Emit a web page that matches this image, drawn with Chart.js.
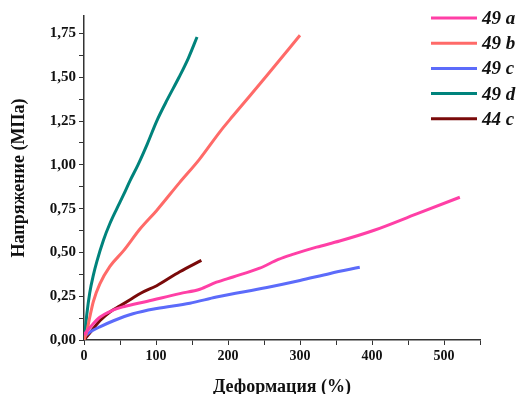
<!DOCTYPE html>
<html>
<head>
<meta charset="utf-8">
<script src="https://cdn.jsdelivr.net/npm/chart.js@4.4.0/dist/chart.umd.min.js"></script>
<style>
  html, body { margin: 0; padding: 0; background: #fff; }
  #wrap { width: 520px; height: 394px; }
</style>
</head>
<body>
<div id="wrap"><canvas id="chart" width="520" height="394"></canvas></div>
<script>
// series labels + colours
const seriesNames = ['49 a', '49 b', '49 c', '49 d', '44 c'];
const seriesColors = ['#ff3fa6', '#ff6a68', '#5c6bfa', '#00837c', '#7a0a0a'];

// деформация (%) / напряжение (МПа)
const strain49a = [0, 10, 22, 40, 55, 87, 133, 161, 184, 207, 244, 270, 291, 323, 355, 402, 462, 522];
const stress49a = [0.03, 0.08, 0.13, 0.17, 0.19, 0.22, 0.265, 0.29, 0.33, 0.36, 0.41, 0.46, 0.49, 0.53, 0.565, 0.625, 0.72, 0.815];

const strain49b = [0, 4, 8, 13, 22, 36, 55, 78, 101, 133, 160, 189, 207, 254, 300];
const stress49b = [0, 0.05, 0.13, 0.22, 0.32, 0.42, 0.51, 0.635, 0.74, 0.9, 1.03, 1.19, 1.28, 1.51, 1.74];

const strain49c = [0, 10, 22, 41, 68, 101, 147, 184, 254, 300, 342, 383];
const stress49c = [0.02, 0.05, 0.075, 0.11, 0.15, 0.18, 0.21, 0.245, 0.3, 0.34, 0.38, 0.415];

const strain49d = [0, 1.5, 4, 8, 13, 18, 27, 36, 45, 55, 64, 75, 88, 101, 116, 132, 145, 157];
const stress49d = [0, 0.05, 0.15, 0.27, 0.37, 0.45, 0.57, 0.665, 0.745, 0.83, 0.91, 1.0, 1.12, 1.25, 1.375, 1.5, 1.61, 1.73];

const strain44c = [0, 10, 22, 36, 50, 64, 80, 101, 133, 163];
const stress44c = [0, 0.05, 0.11, 0.16, 0.195, 0.23, 0.27, 0.31, 0.39, 0.455];

const xTicks = [0, 100, 200, 300, 400, 500];
const yTicks = [0, 0.25, 0.5, 0.75, 1, 1.25, 1.5, 1.75];

const strains = [strain49a, strain49b, strain49c, strain49d, strain44c];
const stresses = [stress49a, stress49b, stress49c, stress49d, stress44c];

function zip(xs, ys) {
  return xs.map((x, i) => ({ x: x, y: ys[i] }));
}

const serif = '"Liberation Serif", "Times New Roman", serif';

// legend drawn at the top right, like the original
const sideLegend = {
  id: 'sideLegend',
  afterDraw(chart) {
    const ctx = chart.ctx;
    const x0 = chart.width - 89;
    ctx.save();
    chart.data.datasets.forEach((ds, i) => {
      const y = 18 + i * 25.2;
      ctx.strokeStyle = ds.borderColor;
      ctx.lineWidth = 3;
      ctx.beginPath();
      ctx.moveTo(x0, y);
      ctx.lineTo(x0 + 46, y);
      ctx.stroke();
      ctx.fillStyle = '#111';
      ctx.font = 'italic bold 19px ' + serif;
      ctx.textBaseline = 'middle';
      ctx.textAlign = 'left';
      ctx.fillText(ds.label, x0 + 51, y + 1);
    });
    ctx.restore();
  }
};

document.addEventListener('DOMContentLoaded', function() {
  const ctx = document.getElementById('chart').getContext('2d');

  const datasets = seriesNames.map((name, i) => ({
    label: name,
    data: zip(strains[i], stresses[i]),
    borderColor: seriesColors[i],
    backgroundColor: seriesColors[i],
    borderWidth: 3,
    pointRadius: 0,
    cubicInterpolationMode: 'monotone',
    fill: false
  }));

  new Chart(ctx, {
    type: 'line',
    data: { datasets: datasets },
    options: {
      responsive: false,
      animation: false,
      layout: { padding: { top: 16, right: 40, left: 0, bottom: 0 } },
      plugins: {
        legend: { display: false },
        tooltip: { enabled: false }
      },
      scales: {
        x: {
          type: 'linear',
          min: 0,
          max: 550,
          afterFit: s => { s.height = 54; },
          ticks: {
            stepSize: 50,
            color: '#111',
            font: { family: serif, weight: 'bold', size: 14 },
            padding: 3,
            maxRotation: 0,
            callback: v => xTicks.includes(v) ? String(v) : ''
          },
          grid: { drawOnChartArea: false, tickLength: 5, color: '#333' },
          border: { color: '#333', width: 1.5 },
          title: {
            display: true,
            text: 'Деформация (%)',
            color: '#111',
            font: { family: serif, weight: 'bold', size: 18, lineHeight: 1 },
            padding: { top: 0, bottom: -2 }
          }
        },
        y: {
          min: 0,
          max: 1.85,
          afterFit: s => { s.width = 84; },
          ticks: {
            stepSize: 0.125,
            includeBounds: false,
            color: '#111',
            font: { family: serif, weight: 'bold', size: 15 },
            padding: 3,
            callback: v => {
              const hit = yTicks.find(t => Math.abs(t - v) < 1e-6);
              return hit === undefined ? '' : hit.toFixed(2).replace('.', ',');
            }
          },
          grid: { drawOnChartArea: false, tickLength: 5, color: '#333' },
          border: { color: '#333', width: 1.5 },
          title: {
            display: true,
            text: 'Напряжение (МПа)',
            color: '#111',
            font: { family: serif, weight: 'bold', size: 18, lineHeight: 1.2 },
            padding: { top: 9, bottom: 0 }
          }
        }
      }
    },
    plugins: [sideLegend]
  });
});
</script>
</body>
</html>
